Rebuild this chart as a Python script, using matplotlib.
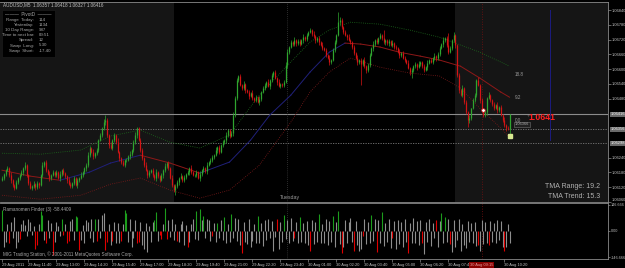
import numpy as np
import matplotlib
matplotlib.use("Agg")
import matplotlib.pyplot as plt
from matplotlib.transforms import blended_transform_factory as blend

plt.rcParams['font.family'] = ['Liberation Sans', 'DejaVu Sans']

# ---------------- data ----------------
BASE = 1.06            # prices stored in points (1e-5) above this base
PT = 1e-5
first_open_pts = 150
close_pts = [
    157,173,189,197,169,148,128,116,140,157,
    169,181,197,209,169,136,116,124,132,120,
    136,128,169,209,222,189,173,157,169,181,
    169,181,157,173,189,177,165,148,132,124,
    136,157,128,148,157,169,181,197,209,250,
    279,262,246,258,271,311,332,360,384,393,
    332,291,279,311,332,303,262,238,222,209,
    230,230,246,254,271,303,332,360,311,271,
    238,209,189,169,181,189,169,157,181,165,
    148,169,189,205,218,197,157,128,108,124,
    140,157,165,148,161,173,181,197,181,169,
    169,181,157,173,189,197,185,209,222,230,
    242,250,271,283,262,291,303,311,332,352,
    328,340,413,482,555,572,535,523,539,515,
    507,490,503,482,474,486,466,478,507,523,
    535,547,531,555,576,588,564,547,531,539,
    535,547,616,669,690,710,702,718,706,714,
    702,718,730,722,739,751,759,743,734,718,
    726,710,698,686,678,657,645,629,637,678,
    710,739,791,800,771,751,739,730,718,710,
    690,665,645,629,637,621,637,612,596,616,
    657,686,702,718,710,726,739,726,710,718,
    706,714,698,706,690,686,669,657,665,645,
    637,625,604,588,596,612,621,608,621,629,
    612,596,608,625,637,629,645,653,645,661,
    686,702,718,726,698,669,686,718,739,698,
    576,515,494,523,466,425,393,401,441,474,
    494,555,535,474,433,413,425,482,494,474,
    458,441,454,433,446,413,393,372,360,357,
    416,
]
# wick lengths, base-36 digits, in units of 3 points
WICK_UNIT = 3
wick_up = "".join([
    "3213242132","2314213242","3125232413","2314232143","2313242135",
    "3242313247","3142325213","2314234213","3241323142","2314232413",
    "3241323142","2314232413","3241323142","2343323142","2314232413",
    "3241323142","2354232413","3241323142","2314232413","32e4323142",
    "2314232413","32413232b2","2314232413","3241323142","2314232413",
    "32413h3142","2314232413","3241323142","23142324131",
])
wick_dn = "".join([
    "2321342213","3142321324","2413231421","3214232413","2314213242",
    "3142321324","2413231421","3214232413","2314213242","3142321327",
    "2413231421","3214232413","2314213242","3142321324","2413231421",
    "3214232413","2314213242","3142321324","2413231421","3214232413",
    "23142t3242","3142321324","2413231421","3214832413","2314213242",
    "3142321324","241323a421","3214232413","2314213242a",
])

ind_vals = [
    119,-89,-60,40,-70,50,-40,80,-95,-60,
    -45,40,60,35,-30,70,50,-20,30,-100,
    -80,40,110,90,-50,-70,60,-40,45,-135,
    -60,50,30,-30,65,-25,40,-70,-55,55,
    70,-50,85,80,-105,-50,35,-70,60,50,
    -40,65,-60,65,-55,70,-40,90,100,-105,
    -60,40,-80,-55,50,-70,45,-65,-55,40,
    120,100,-60,70,-90,-40,60,-70,-60,50,
    -80,-100,45,-120,30,-60,50,60,105,-55,
    -20,-45,40,130,-45,60,-35,70,-50,40,
    -55,-60,40,55,-80,35,-90,-60,40,70,
    -45,110,-50,125,60,85,-40,70,60,-55,
    -30,45,-60,45,-40,60,-50,80,-70,40,
    -60,95,-40,75,-55,65,-80,-125,50,-60,
    -75,70,-90,-55,40,-65,85,-70,45,-85,
    60,-50,70,-40,55,-110,-35,65,-100,50,
    -60,90,-45,60,-70,75,-55,-40,50,-65,
    80,-60,45,-70,55,-80,-115,60,-75,50,
    -60,95,-70,40,-65,70,-80,55,-60,85,
    -90,50,110,-75,-125,-90,60,-70,50,75,
    -60,-115,55,-80,-110,-100,-30,65,-75,50,
    -65,90,-55,70,-120,60,-70,105,-85,45,
    -60,70,-95,-40,55,-100,60,-75,50,-90,
    65,-60,-125,45,-70,75,-65,55,-80,60,
    -70,-130,50,-60,70,-85,45,-40,60,-90,
    55,100,-70,80,-60,70,-75,-120,60,-90,
    -50,65,-110,40,-80,-95,55,-60,45,-70,
    50,-85,-80,-110,60,-75,50,-65,-80,55,
    -60,45,-70,60,-50,55,-90,-110,-90,40,-65,
]
ind_cols = "".join([
    "gsssrsssss","rssssssssr","rsggsrsssr","ssssgrsrrs","ssggrsssss",
    "sssgrssssr","rssrssssrs","ggsssssrrs","sssssssggs","rrsgrsssss",
    "rsssssrsss","sgsgsgssss","rssgsssgss","sgsssssrss","ssssssgsss",
    "sssssssrss","sgsssssrss","gsssssrsss","sgsssssssg","ssgsrsssss",
    "srssssrsss","sgssrssgss","sssrssssss","ssrsssssss","rsssssssrs",
    "sgsgssrsss","ssssssssss","ssrsssssrs","sssssssrsss",
])

# moving-average band (TMA) anchor points: bar index -> price points
tma_bars  = [0,16,33,50,62,79,96,113,130,142,153,165,176,187,196,205,216,227,239,250,262,273,285,290]
tma_mid   = [189,165,148,181,218,250,218,177,222,311,413,494,588,669,706,702,690,669,653,637,612,564,507,486]
band_bars = [0,22,45,62,79,96,113,130,147,165,176,187,199,216,233,250,262,273,285,290]
band_up   = [258,254,271,328,352,303,279,332,494,629,710,759,791,783,759,730,698,669,629,612]
band_dn   = [87,71,87,132,157,108,75,108,209,384,507,588,645,608,584,572,523,441,360,323]

time_ticks = [0,15,31,47,63,79,95,111,127,143,159,175,191,207,223,239,255,287]
time_labels = ["29 Aug 2011","29 Aug 11:40","29 Aug 13:00","29 Aug 14:20","29 Aug 15:40",
               "29 Aug 17:00","29 Aug 18:20","29 Aug 19:40","29 Aug 21:00","29 Aug 22:20",
               "29 Aug 23:40","30 Aug 01:00","30 Aug 02:20","30 Aug 03:40","30 Aug 05:00",
               "30 Aug 06:20","30 Aug 07:40","30 Aug 10:20"]
cursor_bar, cursor_label = 274, "30 Aug 09:15"
day_sep_bar = 163
price_ticks = [1.06840,1.06780,1.06720,1.06660,1.06600,1.06540,1.06480,
               1.06240,1.06180,1.06120,1.06060]
bid = 1.06416
pivot_levels = [1.06356, 1.06298]
sessions = [(-2, 98.3), (258.9, 350)]
blue_line = (313, 1.06840, 1.06311)
signal_bar, signal_price = 275, 1.06433
fib_labels = [("18.8", 1.06580), ("9.2", 1.06485), ("0.0", 1.06392)]
ind_max = 146.666
info_rows = [("Range  Today:", "114"), ("Yesterday:", "1134"), ("10 Day Range:", "987"),
             ("Time to next bar:", "00:51"), ("Spread:", "12"), ("Swap  Long:", "5.30"),
             ("Swap  Short:", "-17.40")]

# ---------------- derived ----------------
closes = BASE + np.array(close_pts) * PT
opens = BASE + np.array([first_open_pts] + close_pts[:-1]) * PT
up = np.array([int(c, 36) for c in wick_up]) * WICK_UNIT * PT
dn = np.array([int(c, 36) for c in wick_dn]) * WICK_UNIT * PT
highs = np.maximum(opens, closes) + up
lows = np.minimum(opens, closes) - dn
idx = np.arange(len(closes))
assert len(up) == len(idx) == len(dn) == len(ind_vals) == len(ind_cols)

# ---------------- figure ----------------
W, H = 625, 268
fig = plt.figure(figsize=(W / 100, H / 100), dpi=100, facecolor='black')

def rect(x0, y0, x1, y1):
    return [x0 / W, 1 - y1 / H, (x1 - x0) / W, (y1 - y0) / H]

def ftext(x, y, s, **kw):
    fig.text(x / W, 1 - y / H, s, **kw)

XL = (-2 / 1.75, 606 / 1.75)
GREY = '#c0c0c0'
AX = '#8a8a8a'
FS = 2.9

ax = fig.add_axes(rect(0, 2, 608, 202))
ax.set_facecolor('black')
ax.set_xlim(*XL)
ax.set_ylim(1.060596, 1.068732)
for s in sessions:
    ax.axvspan(s[0], s[1], color='#151515', lw=0, zorder=0)

bull = closes >= opens
gcol, rcol = '#2fa52f', '#d41414'
cols = np.where(bull, gcol, rcol)
ax.vlines(idx, lows, highs, colors=cols, lw=0.5, zorder=3)
ax.vlines(idx, np.minimum(opens, closes) - 0.4 * PT, np.maximum(opens, closes) + 0.4 * PT,
          colors=cols, lw=0.9, zorder=3)

# TMA band
mid = BASE + np.array(tma_mid) * PT
for k in range(len(tma_bars) - 1):
    c = '#20207a' if tma_mid[k + 1] > tma_mid[k] else '#8e1818'
    ax.plot(tma_bars[k:k + 2], mid[k:k + 2], color=c, lw=0.7, zorder=2)
ax.plot(band_bars, BASE + np.array(band_up) * PT, color='#1c6a1c', lw=0.6,
        ls=(0, (1, 1.6)), zorder=2)
ax.plot(band_bars, BASE + np.array(band_dn) * PT, color='#7e1a1a', lw=0.6,
        ls=(0, (1, 1.6)), zorder=2)

# lines
ax.axhline(bid, color='#8c8c8c', lw=0.8, zorder=1)
for lv in pivot_levels:
    ax.axhline(lv, color='#7a7a7a', lw=0.6, ls=(0, (1.5, 1.5)), zorder=1)
ax.axvline(day_sep_bar, color='#555555', lw=0.5, ls=(0, (1, 2)), zorder=1)
ax.axvline(cursor_bar, color='#7a1010', lw=0.6, ls=(0, (1, 2)), zorder=1)
ax.plot([blue_line[0]] * 2, blue_line[1:], color='#1c1c80', lw=0.7, zorder=1)
ax.plot([signal_bar], [signal_price], 'o', ms=2.6, mfc='white', mec='#d01010', mew=0.5, zorder=4)
ax.plot([idx[-1]], [lows[-1]], 's', ms=2.2, color='#d8e890', zorder=4)

# right price axis
ax.yaxis.tick_right()
ax.set_yticks(price_ticks)
ax.set_yticklabels([f"{p:.5f}" for p in price_ticks])
ax.tick_params(axis='y', colors=AX, labelcolor=GREY, labelsize=FS, length=2, width=0.5, pad=1)
ax.get_yticklabels()[-1].set_va('bottom')
ax.set_xticks([])
ax.spines['left'].set_visible(False)
for sp in ['right', 'top', 'bottom']:
    ax.spines[sp].set_color(AX)
    ax.spines[sp].set_linewidth(0.6)

tr = blend(ax.transAxes, ax.transData)
boxkw = dict(boxstyle='square,pad=0.15', fc='#6a6a6a', ec='none')
ax.text(1.005, bid, f"{bid:.5f}", transform=tr, fontsize=FS, color='#f0f0f0',
        va='center', ha='left', bbox=boxkw, clip_on=False)
for lv in pivot_levels:
    ax.text(1.005, lv, f"{lv:.5f}", transform=tr, fontsize=FS, color='#f0f0f0',
            va='center', ha='left', bbox=boxkw, clip_on=False)

for lab, p in fib_labels:
    ax.text(293, p, lab, fontsize=3.3, color='#9a9a9a', va='center', ha='left')
ax.text(293, pivot_levels[0] + 20 * PT, "1.06366", fontsize=2.8, color='#aaaaaa', va='center',
        ha='left', bbox=dict(boxstyle='square,pad=0.15', fc='#202020', ec='#707070', lw=0.4))
ax.text(301, bid - 12 * PT, "1.0641", fontsize=6.3, color='#ff2020', fontweight='bold',
        va='center', ha='left')
ax.text(299.5, bid - 6 * PT, "\u2191", fontsize=3.2, color='#c0c0c0', va='center', ha='left')

ax.text(day_sep_bar + 1.5, 1.060596 + 10 * PT, "Tuesday", fontsize=3.8, color='#9a9a9a',
        ha='center', va='bottom')

# header + info box
ftext(3, 4.5, "AUDUSD,M5  1.06357 1.06418 1.06327 1.06416", fontsize=3.3, color=GREY,
      va='center', ha='left')
fig.patches.append(plt.Rectangle((2 / W, 1 - 57 / H), 53 / W, 47 / H, transform=fig.transFigure,
                                 fc='black', ec='#202020', lw=0.4))
ftext(28, 15, "\u2014\u2014\u2014  PivotD  \u2014\u2014\u2014", fontsize=3.3, color='#a8a8a8',
      ha='center', va='center')
for k, (a, b) in enumerate(info_rows):
    yy = 20 + 5.1 * k
    ftext(34, yy, a, fontsize=3.2, color='#a8a8a8', ha='right', va='center')
    ftext(39, yy, b, fontsize=3.2, color='#a8a8a8', ha='left', va='center')

ftext(600, 187, "TMA Range: 19.2", fontsize=5, color='#b0b0b0', ha='right', va='center')
ftext(600, 196, "TMA Trend: 15.3", fontsize=5, color='#b0b0b0', ha='right', va='center')

# ---------------- indicator panel ----------------
ax2 = fig.add_axes(rect(0, 203, 608, 259))
ax2.set_facecolor('black')
ax2.set_xlim(*XL)
lim = ind_max * 29 / 27
ax2.set_ylim(-lim, lim)
cmap = {'g': '#1c9c1c', 'r': '#e00000', 's': '#8e8e8e'}
ax2.vlines(idx, 0, ind_vals, colors=[cmap[c] for c in ind_cols], lw=0.8)
ax2.axvline(day_sep_bar, color='#555555', lw=0.5, ls=(0, (1, 2)), zorder=0)
ax2.axvline(cursor_bar, color='#7a1010', lw=0.6, ls=(0, (1, 2)), zorder=0)
ax2.yaxis.tick_right()
ax2.set_yticks([ind_max, 0, -ind_max])
ax2.set_yticklabels(["146.666", "0.00", "-146.666"])
ax2.tick_params(axis='y', colors=AX, labelcolor=GREY, labelsize=2.7, length=1.5, width=0.5, pad=0.6)
ax2.set_xticks(time_ticks)
ax2.set_xticklabels(time_labels)
ax2.tick_params(axis='x', colors=AX, labelcolor=GREY, labelsize=FS, length=2, width=0.5, pad=1)
for lab in ax2.get_xticklabels():
    lab.set_ha('left')
ax2.spines['left'].set_visible(False)
for sp in ['right', 'top', 'bottom']:
    ax2.spines[sp].set_color(AX)
    ax2.spines[sp].set_linewidth(0.6)
ax2.text(0.005, 0.93, "Ramanomen Finder (3) -58.4409", transform=ax2.transAxes, fontsize=3.3,
         color='#a8a8a8', ha='left', va='top')
ax2.text(0.005, 0.04, "MIG Trading Station, \u00a9 2001-2011 MetaQuotes Software Corp.",
         transform=ax2.transAxes, fontsize=3.3, color='#a8a8a8', ha='left', va='bottom')
tr2 = blend(ax2.transData, ax2.transAxes)
ax2.text(cursor_bar, -0.07, cursor_label, transform=tr2, fontsize=FS, color='#e0a0a0',
         ha='center', va='top', clip_on=False, zorder=10,
         bbox=dict(boxstyle='square,pad=0.3', fc='#8a0000', ec='none'))

fig.savefig('out.png', dpi=100, facecolor='black')
